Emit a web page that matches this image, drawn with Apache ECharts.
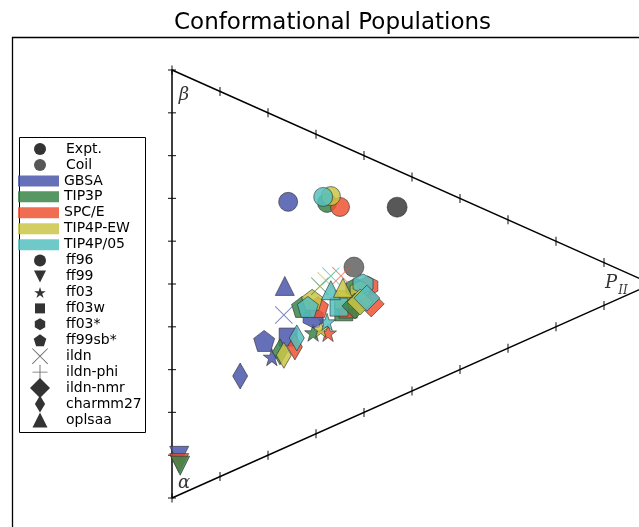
<!DOCTYPE html>
<html><head><meta charset="utf-8">
<script src="https://cdn.jsdelivr.net/npm/echarts@6/dist/echarts.min.js"></script>
<style>html,body{margin:0;padding:0;background:#fff}#c{width:639px;height:527px}</style>
</head><body><div id="c"></div>
<script>
// ---- DATA: populations as [solvent, beta, PII]; alpha = 1 - beta - PII ----
const solvents = ['GBSA', 'TIP3P', 'SPC/E', 'TIP4P-EW', 'TIP4P/05'];
const forceFields = ['ff96', 'ff99', 'ff03', 'ff03w', 'ff03*', 'ff99sb*', 'ildn', 'ildn-phi', 'ildn-nmr', 'charmm27', 'oplsaa'];
const expt = [0.445, 0.469];
const coil = [0.350, 0.379];
const ff96 = [['GBSA', 0.571, 0.242], ['TIP3P', 0.528, 0.323], ['SPC/E', 0.505, 0.350], ['TIP4P-EW', 0.540, 0.331], ['TIP4P/05', 0.546, 0.315]];
const ff99 = [['GBSA', 0.091, 0.015], ['SPC/E', 0.074, 0.015], ['TIP3P', 0.067, 0.017]];
const ff03 = [['GBSA', 0.225, 0.208], ['TIP3P', 0.239, 0.294], ['SPC/E', 0.223, 0.325], ['TIP4P-EW', 0.240, 0.310], ['TIP4P/05', 0.250, 0.323]];
const ff03w = [['GBSA', 0.255, 0.242], ['TIP3P', 0.256, 0.358], ['SPC/E', 0.258, 0.367], ['TIP4P-EW', 0.284, 0.358], ['TIP4P/05', 0.272, 0.348]];
const ff03star = [['GBSA', 0.274, 0.294], ['TIP3P', 0.299, 0.383], ['SPC/E', 0.291, 0.408], ['TIP4P-EW', 0.288, 0.392], ['TIP4P/05', 0.301, 0.398]];
const ff99sbstar = [['GBSA', 0.271, 0.192], ['TIP3P', 0.311, 0.271], ['SPC/E', 0.294, 0.304], ['TIP4P-EW', 0.317, 0.292], ['TIP4P/05', 0.305, 0.283]];
const ildn = [['GBSA', 0.311, 0.233], ['TIP3P', 0.341, 0.308], ['SPC/E', 0.343, 0.352], ['TIP4P-EW', 0.347, 0.321], ['TIP4P/05', 0.353, 0.331]];
const ildnPhi = [];
const ildnNmr = [['TIP3P', 0.258, 0.381], ['SPC/E', 0.246, 0.415], ['TIP4P-EW', 0.262, 0.392], ['TIP4P/05', 0.264, 0.406]];
const charmm27 = [['GBSA', 0.214, 0.142], ['TIP3P', 0.229, 0.225], ['SPC/E', 0.225, 0.256], ['TIP4P-EW', 0.217, 0.233], ['TIP4P/05', 0.244, 0.260]];
const oplsaa = [['GBSA', 0.378, 0.235], ['TIP4P/05', 0.320, 0.331], ['TIP4P-EW', 0.313, 0.356]];
const tickValues = [0, 0.1, 0.2, 0.3, 0.4, 0.5, 0.6, 0.7, 0.8, 0.9, 1.0];
const titleText = 'Conformational Populations';

// ---- STYLE ----
const rows = { 'ff96': ff96, 'ff99': ff99, 'ff03': ff03, 'ff03w': ff03w, 'ff03*': ff03star, 'ff99sb*': ff99sbstar,
  'ildn': ildn, 'ildn-phi': ildnPhi, 'ildn-nmr': ildnNmr, 'charmm27': charmm27, 'oplsaa': oplsaa };
const solventColor = { 'GBSA': '#4b57ab', 'TIP3P': '#398549', 'SPC/E': '#ef5332', 'TIP4P-EW': '#cac546', 'TIP4P/05': '#56bfbf' };
const markerOpacity = 0.85;
const S = {
  triDown: 'path://M0,0L100,0L50,100Z',
  triUp: 'path://M50,0L100,100L0,100Z',
  star: 'path://M50,0L61.2,34.5L97.6,34.5L68.2,55.9L79.4,90.5L50,69.1L20.6,90.5L31.8,55.9L2.4,34.5L38.8,34.5Z',
  hex: 'path://M50,0L93.3,25L93.3,75L50,100L6.7,75L6.7,25Z',
  pent: 'path://M50,0L97.6,34.5L79.4,90.5L20.6,90.5L2.4,34.5Z',
  x: 'path://M0,4L4,0L50,46L96,0L100,4L54,50L100,96L96,100L50,54L4,100L0,96L46,50Z',
  plus: 'path://M47,0L53,0L53,47L100,47L100,53L53,53L53,100L47,100L47,53L0,53L0,47L47,47Z',
  square: 'path://M0,0L100,0L100,100L0,100Z',
  dia: 'path://M50,0L100,50L50,100L0,50Z',
  thinDia: 'path://M30,0L60,50L30,100L0,50Z'
};
const ffSymbol = { 'ff96': 'circle', 'ff99': S.triDown, 'ff03': S.star, 'ff03w': S.square, 'ff03*': S.hex, 'ff99sb*': S.pent,
  'ildn': S.x, 'ildn-phi': S.plus, 'ildn-nmr': S.dia, 'charmm27': S.thinDia, 'oplsaa': S.triUp };
const ffAspect = { 'ff96': 1, 'ff99': 1, 'ff03': 1.05, 'ff03w': 1, 'ff03*': 0.866, 'ff99sb*': 1.05,
  'ildn': 1, 'ildn-phi': 1, 'ildn-nmr': 1, 'charmm27': 0.6, 'oplsaa': 1 };
const ffSize = { 'ff96': 19, 'ff99': 19, 'ff03': 17, 'ff03w': 18, 'ff03*': 20, 'ff99sb*': 21, 'ildn': 18, 'ildn-phi': 18,
  'ildn-nmr': 26, 'charmm27': [15, 26], 'oplsaa': 19 };
const legendIconSize = { 'Expt.': 12, 'Coil': 12, 'ff96': 12, 'ff99': 12, 'ff03': 11, 'ff03w': 10, 'ff03*': 12, 'ff99sb*': 12,
  'ildn': 16, 'ildn-phi': 15, 'ildn-nmr': 20, 'charmm27': 17, 'oplsaa': 15 };

// ternary (beta, PII) -> cartesian data coords: alpha vertex (0,0), beta vertex (0,1), PII vertex (1,0.5)
function toXY(beta, pII) { return [pII, beta + pII / 2]; }

const series = [];
series.push({
  type: 'line', data: [toXY(0, 0), toXY(1, 0), toXY(0, 1), toXY(0, 0)], symbol: 'none', clip: false, silent: true,
  lineStyle: { color: '#000', width: 1.5 }, z: 1, animation: false
});
const tickStyle = { color: '#000' };
series.push({ type: 'scatter', data: tickValues.map(t => toXY(t, 0)), symbol: 'rect', symbolSize: [8, 1.2], itemStyle: tickStyle, clip: false, silent: true, z: 1 });
series.push({ type: 'scatter', data: tickValues.map(t => toXY(1 - t, t)), symbol: 'rect', symbolSize: [1.2, 9], itemStyle: tickStyle, clip: false, silent: true, z: 1 });
series.push({ type: 'scatter', data: tickValues.map(t => toXY(0, t)), symbol: 'rect', symbolSize: [1.2, 9], itemStyle: tickStyle, clip: false, silent: true, z: 1 });
const vlabel = { fontFamily: 'DejaVu Serif', fontStyle: 'italic', fontSize: 18, color: '#000', position: 'inside', show: true };
series.push({
  type: 'scatter', symbol: 'circle', symbolSize: 1, itemStyle: { color: 'rgba(0,0,0,0)' }, clip: false, silent: true, z: 5,
  data: [
    { value: toXY(1, 0), label: Object.assign({}, vlabel, { formatter: 'β', offset: [12, 25] }) },
    { value: toXY(0, 0), label: Object.assign({}, vlabel, { formatter: 'α', offset: [12, -15] }) },
    { value: toXY(0, 1), label: Object.assign({}, vlabel, { formatter: 'P', offset: [-41, -1] }) },
    { value: toXY(0, 1), label: Object.assign({}, vlabel, { formatter: 'II', fontSize: 12, offset: [-29, 7] }) }
  ]
});
series.push({ type: 'scatter', name: 'Expt.', data: [toXY(expt[0], expt[1])], symbol: 'circle', symbolSize: 20, clip: false, silent: true, z: 3,
  itemStyle: { color: '#2e2e2e', borderColor: '#111', borderWidth: 0.6 } });
series.push({ type: 'scatter', name: 'Coil', data: [toXY(coil[0], coil[1])], symbol: 'circle', symbolSize: 20, clip: false, silent: true, z: 3,
  itemStyle: { color: '#575757', borderColor: '#222', borderWidth: 0.6 } });
forceFields.forEach(ff => {
  const lineLike = (ff === 'ildn' || ff === 'ildn-phi');
  series.push({
    type: 'scatter', name: ff, symbol: ffSymbol[ff], symbolSize: ffSize[ff], clip: false, silent: true, z: 3,
    itemStyle: { opacity: lineLike ? 0.7 : markerOpacity, borderColor: '#2a2a2a', borderWidth: lineLike ? 0 : 0.7, color: '#333' },
    data: rows[ff].map(r => ({ value: toXY(r[1], r[2]), itemStyle: { color: solventColor[r[0]] } }))
  });
});
solvents.forEach(s => series.push({ type: 'scatter', name: s, data: [], itemStyle: { color: solventColor[s] } }));

const legendNames = ['Expt.', 'Coil'].concat(solvents, forceFields);
const legends = legendNames.map((name, i) => {
  const cy = 149 + 15.94 * i;
  const isSolvent = solvents.indexOf(name) >= 0;
  let icon, color, h, w, left, opacity = 1;
  if (isSolvent) { icon = 'rect'; color = solventColor[name]; h = 11; w = 41; left = 18; opacity = markerOpacity; }
  else {
    const isRef = (name === 'Expt.' || name === 'Coil');
    icon = isRef ? 'circle' : ffSymbol[name];
    color = name === 'Coil' ? '#575757' : (name === 'ildn' || name === 'ildn-phi') ? '#6a6a6a' : '#333';
    h = legendIconSize[name]; w = 42;
    const iconW = h * (isRef ? 1 : ffAspect[name]);
    left = 40 - iconW / 2;
  }
  const rowH = Math.max(h, 14);
  return {
    orient: 'vertical', left: left, top: cy - rowH / 2, padding: 0, itemWidth: w, itemHeight: h, selectedMode: false,
    symbolKeepAspect: true,
    data: [{ name: name, icon: icon, itemStyle: { color: color, borderWidth: 0, opacity: opacity } }],
    textStyle: { fontFamily: 'DejaVu Sans', fontSize: 14, color: '#000' }
  };
});

const chart = echarts.init(document.getElementById('c'));
chart.setOption({
  animation: false,
  backgroundColor: '#fff',
  title: { text: titleText, left: 169, top: 7, textStyle: { fontFamily: 'DejaVu Sans', fontSize: 23, fontWeight: 'normal', color: '#000' } },
  grid: { left: 172, top: 70, right: 0, height: 428 },
  // grid reaches the canvas edge at x = 639; the PII vertex (x = 1) sits just beyond it, at 652
  xAxis: { type: 'value', min: 0, max: 467 / 480, show: false },
  yAxis: { type: 'value', min: 0, max: 1, show: false },
  legend: legends,
  graphic: [
    { type: 'rect', shape: { x: 12.5, y: 37.5, width: 700, height: 600 }, style: { fill: 'none', stroke: '#000', lineWidth: 1.3 }, silent: true, z: 0 },
    { type: 'rect', shape: { x: 19.5, y: 137.5, width: 126, height: 295 }, style: { fill: '#fff', stroke: '#000', lineWidth: 1 }, silent: true, z: 0 }
  ],
  series: series
});
</script></body></html>
